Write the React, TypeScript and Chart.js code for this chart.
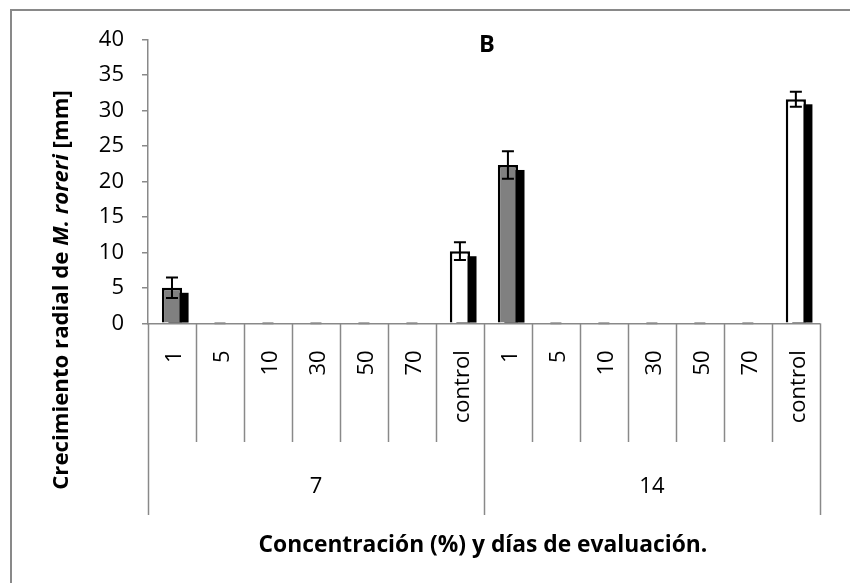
import React, { useEffect, useRef } from "react";
import { Chart, registerables } from "chart.js";

Chart.register(...registerables);

const concentrations = ["1", "5", "10", "30", "50", "70", "control"];
const days = ["7", "14"];
const growth7 = [5.0, 0, 0, 0, 0, 0, 10.15];
const growth14 = [22.3, 0, 0, 0, 0, 0, 31.55];
const err7 = [1.45, 0, 0, 0, 0, 0, 1.25];
const err14 = [1.95, 0, 0, 0, 0, 0, 1.05];
const yTicks = [0, 5, 10, 15, 20, 25, 30, 35, 40];

const FONT = "'Open Sans', sans-serif";
const AXIS_GRAY = "#898989";

export default function App() {
  const ref = useRef<HTMLCanvasElement | null>(null);

  useEffect(() => {
    if (!ref.current) return;
    const labels = [...concentrations, ...concentrations];
    const values = [...growth7, ...growth14];
    const errors = [...err7, ...err14];
    const fills = labels.map((l) => (l === "control" ? "#ffffff" : "#808080"));

    const shadowPlugin = {
      id: "shadow",
      beforeDatasetDraw(chart: any) {
        const ctx = chart.ctx;
        const area = chart.chartArea;
        const meta = chart.getDatasetMeta(0);
        ctx.save();
        ctx.beginPath();
        ctx.rect(area.left, area.top, area.right - area.left, area.bottom - area.top);
        ctx.clip();
        ctx.fillStyle = "#000000";
        meta.data.forEach((bar: any, i: number) => {
          if (values[i] === 0) return;
          const p = bar.getProps(["x", "y", "base", "width"], true);
          const left = p.x - p.width / 2 + 6.5;
          const top = p.y + 5;
          ctx.fillRect(left, top, p.width, p.base - top);
        });
        ctx.restore();
      },
    };

    const decorPlugin = {
      id: "decor",
      beforeDraw(chart: any) {
        const ctx = chart.ctx;
        ctx.save();
        ctx.fillStyle = "#ffffff";
        ctx.fillRect(0, 0, chart.width, chart.height);
        ctx.strokeStyle = AXIS_GRAY;
        ctx.lineWidth = 2;
        ctx.strokeRect(11, 10, 900, 700);
        ctx.restore();
      },
      afterDraw(chart: any) {
        const ctx = chart.ctx;
        const area = chart.chartArea;
        const xs = chart.scales.x;
        const ys = chart.scales.y;
        const meta = chart.getDatasetMeta(0);
        ctx.save();

        // zero-value dashes and error bars
        meta.data.forEach((bar: any, i: number) => {
          const v = values[i];
          if (v === 0) {
            ctx.strokeStyle = "#8a8a8a";
            ctx.lineWidth = 2;
            ctx.beginPath();
            ctx.moveTo(bar.x - 5.5, area.bottom);
            ctx.lineTo(bar.x + 5.5, area.bottom);
            ctx.stroke();
            return;
          }
          const e = errors[i];
          const yt = ys.getPixelForValue(v + e);
          const yb = ys.getPixelForValue(v - e);
          ctx.strokeStyle = "#000000";
          ctx.lineWidth = 2;
          ctx.beginPath();
          ctx.moveTo(bar.x, yt);
          ctx.lineTo(bar.x, yb);
          ctx.moveTo(bar.x - 6, yt);
          ctx.lineTo(bar.x + 6, yt);
          ctx.moveTo(bar.x - 6, yb);
          ctx.lineTo(bar.x + 6, yb);
          ctx.stroke();
        });

        // category separators and group separators
        const n = labels.length;
        const bound = (i: number) => {
          if (i === 0) return area.left;
          if (i === n) return area.right;
          return (xs.getPixelForValue(i - 1) + xs.getPixelForValue(i)) / 2;
        };
        ctx.strokeStyle = AXIS_GRAY;
        ctx.lineWidth = 1.5;
        for (let i = 0; i <= n; i++) {
          const x = Math.round(bound(i)) + 0.5;
          const isGroup = i % concentrations.length === 0;
          ctx.beginPath();
          ctx.moveTo(x, area.bottom);
          ctx.lineTo(x, isGroup ? 515 : 442);
          ctx.stroke();
        }

        // group labels
        ctx.fillStyle = "#000000";
        ctx.font = `22px ${FONT}`;
        ctx.textAlign = "center";
        ctx.textBaseline = "middle";
        days.forEach((d, g) => {
          const x0 = bound(g * concentrations.length);
          const x1 = bound((g + 1) * concentrations.length);
          ctx.fillText(d, (x0 + x1) / 2, 487);
        });

        // chart title
        ctx.font = `bold 23.5px ${FONT}`;
        ctx.fillText("B", (area.left + area.right) / 2 + 3, 45);

        // x axis title
        ctx.font = `bold 22.8px ${FONT}`;
        ctx.fillText("Concentración (%) y días de evaluación.", (area.left + area.right) / 2 - 1, 546);

        // y axis title with italic part
        const parts: [string, string][] = [
          ["Crecimiento radial de ", `bold 22.2px ${FONT}`],
          ["M. roreri", `italic bold 22.2px ${FONT}`],
          [" [mm]", `bold 22.2px ${FONT}`],
        ];
        let total = 0;
        const widths = parts.map(([t, f]) => {
          ctx.font = f;
          const w = ctx.measureText(t).width;
          total += w;
          return w;
        });
        ctx.translate(62, 290);
        ctx.rotate(-Math.PI / 2);
        ctx.textAlign = "left";
        let cx = -total / 2;
        parts.forEach(([t, f], k) => {
          ctx.font = f;
          ctx.fillText(t, cx, 0);
          cx += widths[k];
        });
        ctx.restore();
      },
    };

    const chart = new Chart(ref.current, {
      type: "bar",
      data: {
        labels,
        datasets: [
          {
            data: values,
            backgroundColor: fills,
            borderColor: "#000000",
            borderWidth: 2.5,
            barPercentage: 0.42,
            categoryPercentage: 1,
            clip: 0,
          } as any,
        ],
      },
      options: {
        animation: false,
        responsive: true,
        maintainAspectRatio: false,
        layout: { padding: { left: 0, top: 39.3, right: 20.7, bottom: 0 } },
        plugins: {
          legend: { display: false },
          title: { display: false },
          tooltip: { enabled: false },
        },
        scales: {
          x: {
            grid: { display: false, drawTicks: false },
            border: { display: true, color: AXIS_GRAY, width: 1.5 },
            ticks: {
              autoSkip: false,
              minRotation: 90,
              maxRotation: 90,
              padding: 27,
              labelOffset: 3,
              color: "#000000",
              font: { family: FONT, size: 22 },
            },
            afterFit: (s: any) => {
              s.height = 583 - 323.3;
            },
          },
          y: {
            min: 0,
            max: 40,
            afterBuildTicks: (s: any) => {
              s.ticks = yTicks.map((v) => ({ value: v }));
            },
            grid: {
              drawOnChartArea: false,
              drawTicks: true,
              tickLength: 6,
              color: AXIS_GRAY,
              lineWidth: 1.5,
            },
            border: { display: true, color: AXIS_GRAY, width: 1.5 },
            ticks: {
              padding: 18,
              color: "#000000",
              font: { family: FONT, size: 22 },
            },
            afterFit: (s: any) => {
              s.width = 148;
            },
          },
        },
      },
      plugins: [decorPlugin, shadowPlugin],
    });
    return () => chart.destroy();
  }, []);

  return (
    <div style={{ position: "fixed", left: 0, top: 0, width: 850, height: 583 }}>
      <canvas ref={ref} />
    </div>
  );
}
